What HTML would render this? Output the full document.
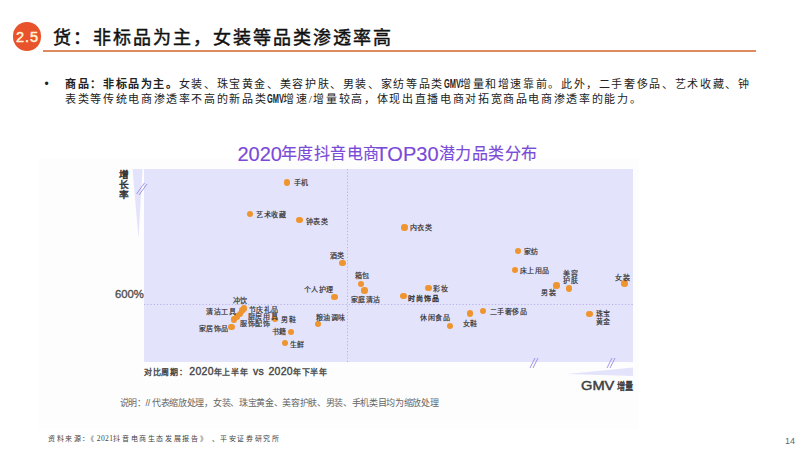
<!DOCTYPE html>
<html lang="zh-CN">
<head>
<meta charset="utf-8">
<style>
*{margin:0;padding:0;box-sizing:border-box;}
html,body{width:800px;height:450px;overflow:hidden;background:#fff;}
body{position:relative;font-family:"Liberation Sans",sans-serif;color:#222;}
.abs{position:absolute;white-space:nowrap;}
#badge{left:13px;top:22.2px;width:28.4px;height:28.4px;border-radius:50%;background:#E8532B;color:#FFF3D6;font-size:14.5px;line-height:31.5px;text-align:center;letter-spacing:0.9px;text-indent:0.6px;font-weight:normal;-webkit-text-stroke:0.5px #FFF3D6;}
#title{left:52.5px;top:25.2px;font-family:"Liberation Serif",serif;font-size:18px;line-height:26px;font-weight:400;-webkit-text-stroke:0.45px #111;color:#111;letter-spacing:2.05px;}
#rule{left:43px;top:50px;width:713px;height:2px;background:#DE8A5E;}
#bullet{left:44.5px;top:76px;font-size:12px;line-height:16px;}
#body1,#body2{left:65px;font-family:"Liberation Serif",serif;font-size:11px;line-height:16px;color:#222;letter-spacing:1.6px;}
.gmv{display:inline-block;width:16px;letter-spacing:0;vertical-align:top;overflow:visible;}
.gmv i{display:inline-block;font-style:normal;font-weight:bold;font-family:"Liberation Sans",sans-serif;font-size:12px;transform:scaleX(0.62);transform-origin:0 0;}
#body1{top:76px;letter-spacing:1.63px;}
#body2{top:91px;letter-spacing:1.65px;}
#body1 b{font-weight:bold;}
#outer{left:39px;top:159px;width:600px;height:270px;background:#FDFDFD;}
#ctitle{left:237.5px;top:143px;height:22px;color:#7A4AD8;-webkit-text-stroke:0.15px #7A4AD8;}
#ctitle span{position:absolute;top:0;white-space:nowrap;line-height:22px;}
#ctitle .l{font-size:20px;letter-spacing:0;margin-top:0.3px;}
#ctitle .c{font-size:16px;letter-spacing:0.4px;}
#plot{left:144px;top:169px;width:489px;height:193px;background:#E3E3FB;}
.dot{position:absolute;width:6.4px;height:6.4px;border-radius:50%;background:#EE952F;margin:-3.2px 0 0 -3.2px;}
.lb{position:absolute;white-space:nowrap;font-size:7px;line-height:8px;letter-spacing:0.55px;color:#333;-webkit-text-stroke:0.2px #333;transform:translateY(-3.2px);}
#ylab{left:118.5px;top:169.5px;font-size:9px;line-height:10px;font-weight:normal;-webkit-text-stroke:0.45px #333;color:#333;transform:scaleX(1.08);transform-origin:0 0;}
#p600{left:115px;top:289px;font-size:11.3px;line-height:11px;font-weight:normal;-webkit-text-stroke:0.35px #505050;color:#505050;}
#cmp{left:144px;top:364px;line-height:12px;font-weight:normal;-webkit-text-stroke:0.35px #444;color:#444;}
#cmp .k{font-size:8px;letter-spacing:0.65px;}
#cmp .n{font-size:10.5px;letter-spacing:0.3px;}
#gmv{left:580.5px;top:378.5px;line-height:14px;color:#3f3f3f;-webkit-text-stroke:0.45px #3f3f3f;}
#note{left:119.5px;top:398.5px;letter-spacing:-0.32px;font-size:9px;line-height:9px;color:#666;}
#src{left:48px;top:434px;font-family:"Liberation Serif",serif;font-size:7px;line-height:9px;color:#444;letter-spacing:1.62px;}
#pg{left:785px;top:436.5px;font-size:9px;line-height:9px;color:#666;}
</style>
</head>
<body>
<div id="badge" class="abs">2.5</div>
<div id="title" class="abs">货：非标品为主，女装等品类渗透率高</div>
<div id="rule" class="abs"></div>
<div id="bullet" class="abs">•</div>
<div id="body1" class="abs"><b>商品：非标品为主。</b>女装、珠宝黄金、美容护肤、男装、家纺等品类<span class="gmv"><i>GMV</i></span>增量和增速靠前。此外，二手奢侈品、艺术收藏、钟</div>
<div id="body2" class="abs">表类等传统电商渗透率不高的新品类<span class="gmv"><i>GMV</i></span>增速/增量较高，体现出直播电商对拓宽商品电商渗透率的能力。</div>
<div id="outer" class="abs"></div>
<div id="ctitle" class="abs"><span class="l" style="left:0">2020</span><span class="c" style="left:43.5px">年度抖音电商</span><span class="l" style="left:138px">TOP30</span><span class="c" style="left:201.5px">潜力品类分布</span></div>
<div id="plot" class="abs"></div>
<svg class="abs" style="left:0;top:0" width="800" height="450" viewBox="0 0 800 450">
<polygon points="132.5,169 142.5,169 138.5,238" fill="#E3E3FB"/>
<polygon points="567,374 633,367.5 633,376" fill="#E3E3FB"/>
<line x1="347.5" y1="169" x2="347.5" y2="362" stroke="#B9AFEA" stroke-width="1" stroke-dasharray="1.2 2.05"/>
<line x1="144" y1="304.5" x2="633" y2="304.5" stroke="#B9AFEA" stroke-width="1" stroke-dasharray="1.2 2.05"/>
<g stroke="#8C7FE0" stroke-width="0.8" fill="none">
<line x1="136.5" y1="194" x2="144.5" y2="183"/><line x1="139" y1="195" x2="147" y2="184"/>
<line x1="530" y1="368" x2="535" y2="358"/><line x1="533" y1="368" x2="538" y2="358"/>
<line x1="607" y1="368" x2="612" y2="358"/><line x1="610" y1="368" x2="615" y2="358"/>
</g>
</svg>
<div class="dot" style="left:287.1px;top:182.4px"></div>
<div class="dot" style="left:250.2px;top:214px"></div>
<div class="dot" style="left:299.5px;top:219.8px"></div>
<div class="dot" style="left:404.4px;top:227.3px"></div>
<div class="dot" style="left:518.1px;top:251px"></div>
<div class="dot" style="left:342.6px;top:263px"></div>
<div class="dot" style="left:515px;top:270px"></div>
<div class="dot" style="left:624.5px;top:283.5px"></div>
<div class="dot" style="left:361.2px;top:283.9px"></div>
<div class="dot" style="left:364.6px;top:290.5px"></div>
<div class="dot" style="left:428.4px;top:287.8px"></div>
<div class="dot" style="left:556.6px;top:285.3px"></div>
<div class="dot" style="left:568.8px;top:288.5px"></div>
<div class="dot" style="left:334.6px;top:296.8px"></div>
<div class="dot" style="left:403.3px;top:296.2px"></div>
<div class="dot" style="left:244px;top:308.3px"></div>
<div class="dot" style="left:241.8px;top:310.6px"></div>
<div class="dot" style="left:240px;top:313.7px"></div>
<div class="dot" style="left:237.2px;top:316.6px"></div>
<div class="dot" style="left:234.2px;top:319.4px"></div>
<div class="dot" style="left:231.6px;top:327px"></div>
<div class="dot" style="left:275.2px;top:318.8px"></div>
<div class="dot" style="left:291.1px;top:331.7px"></div>
<div class="dot" style="left:284.9px;top:342.9px"></div>
<div class="dot" style="left:318px;top:324px"></div>
<div class="dot" style="left:449.7px;top:325.8px"></div>
<div class="dot" style="left:469.7px;top:313.5px"></div>
<div class="dot" style="left:483.2px;top:311.2px"></div>
<div class="dot" style="left:589.6px;top:313.8px"></div>
<div class="lb" style="left:293.8px;top:182px">手机</div>
<div class="lb" style="left:256px;top:214px">艺术收藏</div>
<div class="lb" style="left:305.5px;top:220.5px">钟表类</div>
<div class="lb" style="left:409.6px;top:227px">内衣类</div>
<div class="lb" style="left:523.8px;top:251px">家纺</div>
<div class="lb" style="left:329.7px;top:255.2px">酒类</div>
<div class="lb" style="left:519.6px;top:270px">床上用品</div>
<div class="lb" style="left:615.3px;top:276.5px">女装</div>
<div class="lb" style="left:354.5px;top:274.5px">箱包</div>
<div class="lb" style="left:350.7px;top:299px">家庭清洁</div>
<div class="lb" style="left:433.3px;top:288px">彩妆</div>
<div class="lb" style="left:541px;top:292.3px">男装</div>
<div class="lb" style="left:563.2px;top:272.8px">美容</div>
<div class="lb" style="left:563.2px;top:280.3px">护肤</div>
<div class="lb" style="left:303.7px;top:289px">个人护理</div>
<div class="lb" style="left:408.3px;top:297.5px;letter-spacing:0.95px;-webkit-text-stroke:0.3px #333">时尚饰品</div>
<div class="lb" style="left:232.8px;top:300.1px">冲饮</div>
<div class="lb" style="left:248.8px;top:308.7px">节庆礼品</div>
<div class="lb" style="left:206.3px;top:310.5px">清洁工具</div>
<div class="lb" style="left:247.9px;top:315.7px">厨房用具</div>
<div class="lb" style="left:240px;top:323.4px">服饰配饰</div>
<div class="lb" style="left:198.6px;top:328px">家居饰品</div>
<div class="lb" style="left:281px;top:319.2px">男鞋</div>
<div class="lb" style="left:271.6px;top:331px">书籍</div>
<div class="lb" style="left:289.8px;top:343.7px">生鲜</div>
<div class="lb" style="left:315.7px;top:317px">粮油调味</div>
<div class="lb" style="left:420.2px;top:316.8px">休闲食品</div>
<div class="lb" style="left:462.8px;top:322.5px">女鞋</div>
<div class="lb" style="left:489.5px;top:311.2px">二手奢侈品</div>
<div class="lb" style="left:595.8px;top:313.3px">珠宝</div>
<div class="lb" style="left:595.8px;top:321.3px">黄金</div>
<div id="ylab" class="abs">增<br>长<br>率</div>
<div id="p600" class="abs">600%</div>
<div id="cmp" class="abs"><span class="k">对比周期：</span><span class="n" style="margin-left:2px">2020</span><span class="k">年上半年</span> <span class="n">vs</span> <span class="n">2020</span><span class="k">年下半年</span></div>
<div id="gmv" class="abs"><span style="position:absolute;left:0;top:0;font-size:12px;transform:scaleX(1.22);transform-origin:0 0">GMV</span><span style="position:absolute;left:36px;top:1px;font-size:10px;transform:scaleX(0.82);transform-origin:0 0">增量</span></div>
<div id="note" class="abs">说明：// 代表缩放处理，女装、珠宝黄金、美容护肤、男装、手机类目均为缩放处理</div>
<div id="src" class="abs">资料来源：《<span style="letter-spacing:0.4px;font-size:7.5px">2021</span>抖音电商生态发展报告》 、平安证券研究所</div>
<div id="pg" class="abs">14</div>

</body>
</html>
